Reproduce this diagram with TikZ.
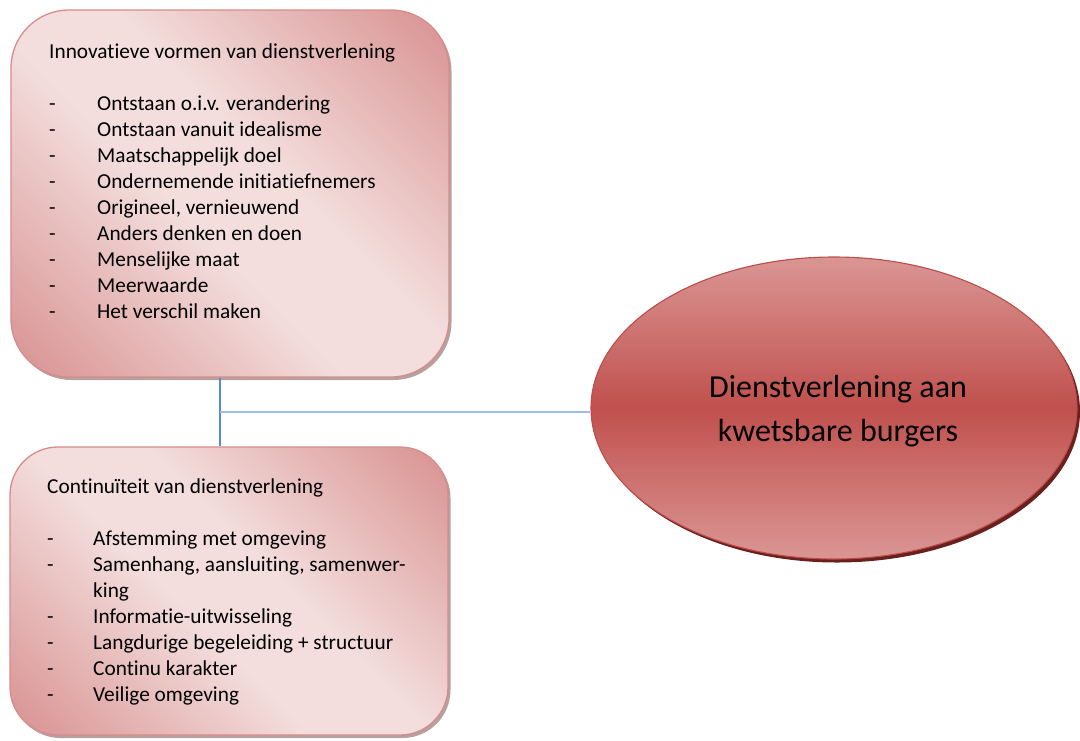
\documentclass[tikz,border=0pt]{standalone}
\usepackage{fontspec}
\setmainfont{Carlito}[Ligatures=NoCommon]
\usetikzlibrary{shapes.geometric,shadows}
\definecolor{boxdark}{RGB}{216,146,145}
\definecolor{boxlight}{RGB}{243,222,221}
\definecolor{boxedge}{RGB}{214,140,139}
\definecolor{boxshadow}{RGB}{175,150,150}
\definecolor{elltop}{RGB}{218,150,148}
\definecolor{ellmid}{RGB}{192,80,77}
\definecolor{elledge}{RGB}{188,76,73}
\definecolor{ellshadow}{RGB}{105,32,30}
\definecolor{vlink}{RGB}{84,138,210}
\definecolor{hlink}{RGB}{158,190,230}
\pgfdeclareverticalshading{boxshade}{100bp}{color(0bp)=(boxdark); color(15bp)=(boxdark); color(44bp)=(boxlight); color(56bp)=(boxlight); color(85bp)=(boxdark); color(100bp)=(boxdark)}
\begin{document}
\begin{tikzpicture}[x=1pt,y=-1pt,
  infobox/.style={draw=boxedge, line width=1.3pt,
    shading=boxshade, shading angle=-45,
    drop shadow={shadow xshift=2.5pt, shadow yshift=-3pt, fill=boxshadow, opacity=0.9},
    inner sep=0pt},
  centreoval/.style={ellipse, draw=elledge, line width=1.1pt,
    top color=elltop, bottom color=elltop, middle color=ellmid,
    drop shadow={shadow xshift=3pt, shadow yshift=-3.5pt, fill=ellshadow, opacity=1},
    inner sep=0pt},
  centrelabel/.style={align=center, inner sep=0pt, font=\fontsize{32}{44}\selectfont},
  itemtext/.style={anchor=base west, inner sep=0pt, font=\fontsize{21.3}{26}\selectfont},
  vlinkstyle/.style={draw=vlink, line width=2pt},
  hlinkstyle/.style={draw=hlink, line width=2pt}
]
\useasboundingbox (0,0) rectangle (1080,740);
\fill[white] (0,0) rectangle (1080,740);

% boxes
\node[infobox, rounded corners=58pt, minimum width=438pt, minimum height=367pt] (topbox) at (230,193.5) {};
\node[infobox, rounded corners=48pt, minimum width=438pt, minimum height=288pt] (botbox) at (229,591) {};

% central ellipse
\node[centreoval, minimum width=486pt, minimum height=302pt] (centre) at (834,408) {};
\node[centrelabel] (centretext) at (838,411.5) {Dienstverlening aan\\kwetsbare burgers};

% connectors
\coordinate (junction) at (220,412);
\draw[vlinkstyle] (topbox.south -| junction) -- (botbox.north -| junction);
\draw[hlinkstyle] (junction) -- (junction -| centre.west);

% top box text
\node[itemtext] (toptitle) at (49,58) {Innovatieve vormen van dienstverlening};
\foreach \t [count=\i] in {{Ontstaan o.i.v. verandering},{Ontstaan vanuit idealisme},{Maatschappelijk doel},{Ondernemende initiatiefnemers},{Origineel, vernieuwend},{Anders denken en doen},{Menselijke maat},{Meerwaarde},{Het verschil maken}} {
  \node[itemtext] (topdash\i) at (49,{110+26.1*(\i-1)}) {-};
  \node[itemtext] (topitem\i) at (97,{110+26.1*(\i-1)}) {\t};
}

% bottom box text
\node[itemtext] (bottitle) at (47,493) {Continuïteit van dienstverlening};
\node[itemtext] (botdash1) at (47,545) {-};
\node[itemtext] (botitem1) at (93,545) {Afstemming met omgeving};
\node[itemtext] (botdash2) at (47,571) {-};
\node[itemtext] (botitem2) at (93,571) {Samenhang, aansluiting, samenwer-};
\node[itemtext] (botitem2b) at (93,597) {king};
\node[itemtext] (botdash3) at (47,623) {-};
\node[itemtext] (botitem3) at (93,623) {Informatie-uitwisseling};
\node[itemtext] (botdash4) at (47,649) {-};
\node[itemtext] (botitem4) at (93,649) {Langdurige begeleiding + structuur};
\node[itemtext] (botdash5) at (47,675) {-};
\node[itemtext] (botitem5) at (93,675) {Continu karakter};
\node[itemtext] (botdash6) at (47,701) {-};
\node[itemtext] (botitem6) at (93,701) {Veilige omgeving};
\end{tikzpicture}
\end{document}
